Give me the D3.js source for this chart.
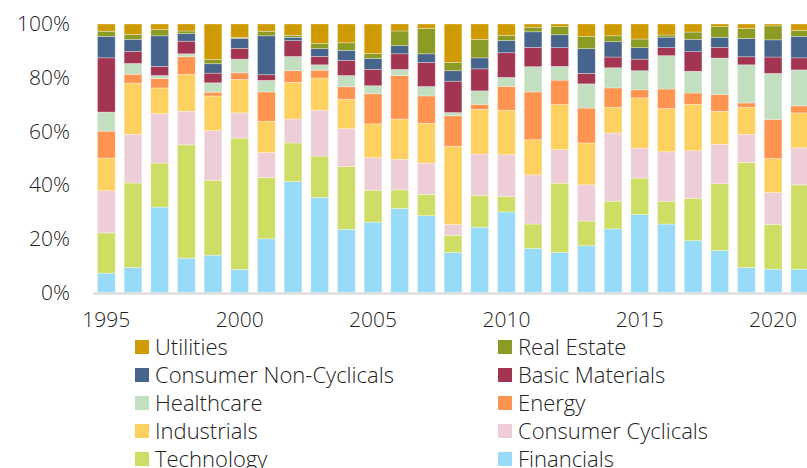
<!DOCTYPE html>
<html>
<head>
<meta charset="utf-8">
<script src="https://d3js.org/d3.v7.min.js"></script>
<style>
  body { margin: 0; background: #fff; }
  svg text { font-family: "Open Sans", Lato, sans-serif; font-weight: 300; fill: #222; }
</style>
</head>
<body>
<div id="chart"></div>
<script>
// years on the x axis
var years = d3.range(1995, 2022);
var yearTicks = [1995, 2000, 2005, 2010, 2015, 2020];
var yTicks = [0, 20, 40, 60, 80, 100];

// sector shares, % of total, stacked bottom -> top
var financials    = [7.2, 9.3, 31.8, 12.8, 13.9, 8.6, 20.0, 41.3, 35.4, 23.5, 26.2, 31.3, 28.6, 14.9, 24.3, 30.0, 16.4, 14.9, 17.4, 23.7, 29.0, 25.5, 19.3, 15.7, 9.3, 8.7, 8.7];
var technology    = [15.0, 31.5, 16.4, 42.2, 27.9, 48.9, 22.8, 14.4, 15.4, 23.4, 11.9, 6.9, 7.9, 6.4, 11.9, 5.7, 9.1, 25.8, 9.2, 10.3, 13.6, 8.5, 15.8, 24.8, 39.1, 16.7, 31.4];
var consCyclicals = [15.7, 18.1, 18.4, 12.5, 18.5, 9.4, 9.3, 8.9, 17.1, 14.1, 12.1, 11.4, 11.7, 4.0, 15.4, 15.6, 18.3, 12.5, 13.5, 25.4, 11.2, 18.4, 17.7, 14.7, 10.5, 11.8, 13.8];
var industrials   = [12.2, 19.1, 9.6, 13.8, 12.9, 12.4, 11.7, 13.7, 12.0, 11.0, 12.6, 15.0, 14.8, 29.2, 16.6, 16.6, 13.1, 16.8, 15.6, 9.6, 18.7, 16.1, 17.3, 12.3, 10.1, 12.7, 13.0];
var energy        = [10.0, 3.3, 3.5, 6.5, 1.4, 2.5, 10.9, 4.3, 2.9, 4.6, 11.2, 16.2, 10.2, 11.3, 1.9, 8.9, 17.8, 9.1, 13.0, 7.2, 3.0, 7.3, 4.2, 6.2, 1.6, 14.6, 2.6];
var healthcare    = [7.1, 4.0, 1.1, 1.1, 3.5, 5.1, 4.3, 5.3, 2.0, 4.2, 3.0, 2.3, 3.5, 1.2, 5.0, 3.3, 9.4, 5.1, 9.0, 7.5, 7.1, 12.4, 8.1, 13.6, 14.2, 17.1, 13.4];
var basicMats     = [20.2, 4.5, 3.4, 4.7, 3.6, 4.0, 2.1, 5.9, 3.1, 5.6, 6.1, 5.8, 9.0, 11.7, 8.2, 9.2, 7.2, 7.0, 3.9, 4.0, 4.3, 3.0, 7.3, 4.0, 3.0, 6.1, 4.5];
var consNonCyc    = [8.0, 4.5, 11.4, 2.8, 3.5, 3.7, 14.5, 1.2, 2.9, 3.8, 4.1, 3.0, 3.2, 3.9, 4.1, 4.5, 5.8, 4.8, 9.2, 5.7, 4.3, 3.9, 4.6, 3.7, 6.8, 6.4, 8.0];
var realEstate    = [1.9, 1.8, 2.3, 1.0, 1.6, 0.4, 1.7, 0.8, 2.0, 2.8, 1.8, 5.5, 9.5, 3.1, 6.9, 2.0, 1.7, 3.0, 4.6, 2.2, 3.2, 0.8, 2.7, 4.0, 3.8, 5.2, 2.2];
var utilities     = [2.7, 3.9, 2.1, 2.6, 13.2, 5.0, 2.7, 4.2, 7.2, 7.0, 11.0, 2.6, 1.6, 14.3, 5.7, 4.2, 1.2, 1.0, 4.6, 4.4, 5.6, 4.1, 3.0, 1.0, 1.6, 0.7, 2.4];

var sectors = ["Financials", "Technology", "Consumer Cyclicals", "Industrials", "Energy",
               "Healthcare", "Basic Materials", "Consumer Non-Cyclicals", "Real Estate", "Utilities"];
var seriesValues = [financials, technology, consCyclicals, industrials, energy,
                    healthcare, basicMats, consNonCyc, realEstate, utilities];

var colors = ["#98dbf8", "#cede64", "#eecdd7", "#fed060", "#ff9350",
              "#c2dfc0", "#a43552", "#46648c", "#8b9b24", "#cf9a02"];

// legend reads top-left to bottom-right, reverse of the stack
var legendOrder = ["Utilities", "Real Estate", "Consumer Non-Cyclicals", "Basic Materials",
                   "Healthcare", "Energy", "Industrials", "Consumer Cyclicals",
                   "Technology", "Financials"];

var width = 807, height = 468;
var margin = { top: 24, left: 93, bottom: 176 };

var svg = d3.select("#chart").append("svg")
    .attr("width", width)
    .attr("height", height);

// build rows for the stack
var table = years.map(function (yr, i) {
    var row = { year: yr };
    sectors.forEach(function (s, k) { row[s] = seriesValues[k][i]; });
    return row;
});

// normalise to 100%
var stacked = d3.stack().keys(sectors).offset(d3.stackOffsetExpand)(table);

var step = 26.67;
var x = d3.scaleBand()
    .domain(years)
    .range([margin.left, margin.left + step * years.length])
    .paddingInner(0.335)
    .paddingOuter(0.1675);

var y = d3.scaleLinear()
    .domain([0, 1])
    .range([height - margin.bottom + 0.5, margin.top]);

var color = d3.scaleOrdinal().domain(sectors).range(colors);

svg.append("g")
    .selectAll("g")
    .data(stacked)
    .join("g")
    .attr("fill", function (d) { return color(d.key); })
    .selectAll("rect")
    .data(function (d) { return d; })
    .join("rect")
    .attr("x", function (d) { return x(d.data.year); })
    .attr("width", x.bandwidth())
    .attr("y", function (d) { return y(d[1]); })
    .attr("height", function (d) { return y(d[0]) - y(d[1]); })
    .attr("stroke", "#fff")
    .attr("stroke-width", 0.7)
    .attr("stroke-opacity", 0.45);

// baseline
svg.append("line")
    .attr("x1", margin.left)
    .attr("x2", width)
    .attr("y1", y(0) + 1)
    .attr("y2", y(0) + 1)
    .attr("stroke", "#d9d9d9")
    .attr("stroke-width", 2);

// y axis labels
var yAxis = svg.append("g")
    .attr("transform", "translate(70,0)")
    .call(d3.axisLeft(y).tickValues(yTicks.map(function (v) { return v / 100; }))
        .tickFormat(function (v) { return Math.round(v * 100) + "%"; })
        .tickSize(0).tickPadding(0));
yAxis.select(".domain").remove();
yAxis.selectAll("text").attr("font-size", 21).attr("font-family", null).attr("fill", "#222");

// x axis labels
var xAxis = svg.append("g")
    .attr("transform", "translate(0," + (y(0) + 20) + ")")
    .call(d3.axisBottom(x).tickValues(yearTicks).tickSize(0).tickPadding(0));
xAxis.select(".domain").remove();
xAxis.selectAll("text").attr("font-size", 21).attr("font-family", null).attr("fill", "#222");

// legend
var legend = svg.append("g")
    .selectAll("g")
    .data(legendOrder)
    .join("g")
    .attr("transform", function (d, i) {
        var col = i % 2, row = Math.floor(i / 2);
        return "translate(" + (col ? 498 : 135) + "," + (347 + row * 28) + ")";
    });

legend.append("rect")
    .attr("x", 0).attr("y", -7)
    .attr("width", 14).attr("height", 14)
    .attr("fill", function (d) { return color(d); });

legend.append("text")
    .attr("x", 20)
    .attr("dy", "0.35em")
    .attr("font-size", 22)
    .text(function (d) { return d; });
</script>
</body>
</html>
